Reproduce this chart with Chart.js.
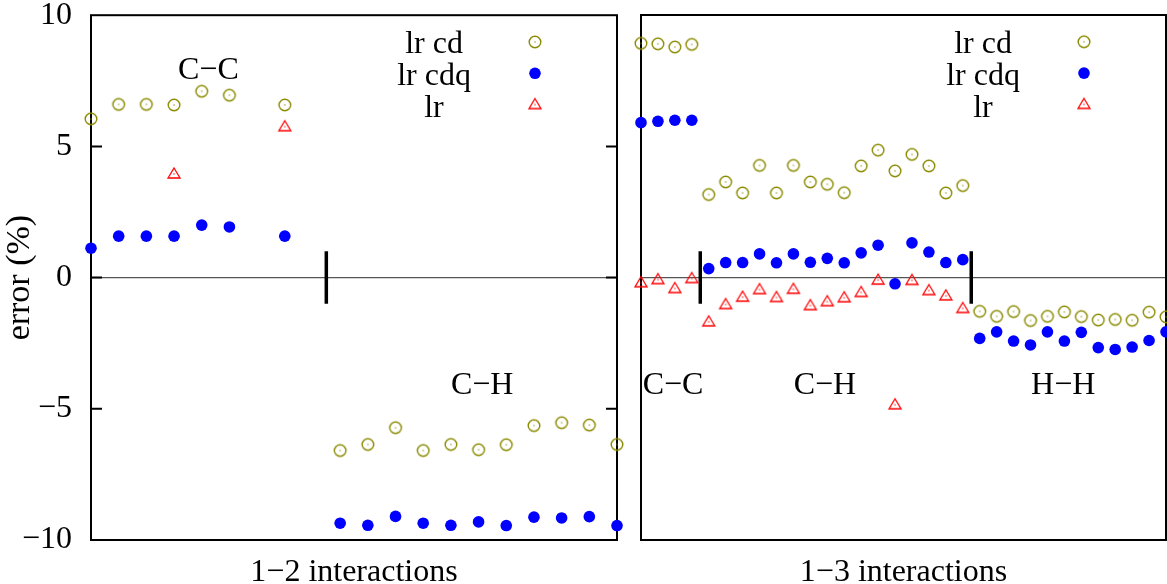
<!DOCTYPE html>
<html>
<head>
<meta charset="utf-8">
<script src="https://cdn.jsdelivr.net/npm/chart.js@4.4.1/dist/chart.umd.min.js"></script>
<style>
  html, body { margin: 0; padding: 0; background: #fff; overflow: hidden; }
  #wrap { position: relative; width: 1167px; height: 584px; overflow: hidden; }
  .box { position: absolute; }
</style>
</head>
<body>
<div id="wrap">
  <div class="box" style="left:0;top:-23px;width:630px;height:623px"><canvas id="left" width="630" height="623"></canvas></div>
  <div class="box" style="left:630px;top:0;width:543px;height:600px"><canvas id="right" width="543" height="600"></canvas></div>
</div>
<script>
// series names
var seriesNames = ["lr cd", "lr cdq", "lr"];

// 1-2 interactions (index 0..19)
var leftCd = [6.05, 6.6, 6.6, 6.58, 7.1, 6.95, null, 6.58, null,
  -6.59, -6.36, -5.72, -6.59, -6.36, -6.56, -6.37, -5.64, -5.53, -5.62, -6.36];
var leftCdq = [1.12, 1.58, 1.58, 1.58, 2.0, 1.93, null, 1.58, null,
  -9.36, -9.44, -9.1, -9.36, -9.44, -9.31, -9.45, -9.13, -9.16, -9.11, -9.45];
var leftLr = [null, null, null, 3.95, null, null, null, 5.75, null,
  null, null, null, null, null, null, null, null, null, null, null];
var leftSep = [8.5];

// 1-3 interactions (index 0..31)
var rightCd = [8.92, 8.9, 8.78, 8.88,
  3.16, 3.64, 3.22, 4.27, 3.22, 4.27, 3.64, 3.55, 3.23, 4.25, 4.85, 4.06, 4.69, 4.25, 3.22, 3.5,
  -1.29, -1.48, -1.3, -1.64, -1.48, -1.31, -1.49, -1.62, -1.6, -1.63, -1.32, -1.5];
var rightCdq = [5.9, 5.95, 5.99, 5.99,
  0.34, 0.57, 0.57, 0.9, 0.56, 0.9, 0.58, 0.73, 0.56, 0.94, 1.23, -0.24, 1.32, 0.97, 0.57, 0.68,
  -2.32, -2.07, -2.42, -2.57, -2.07, -2.42, -2.09, -2.67, -2.74, -2.65, -2.4, -2.07];
var rightLr = [-0.2, -0.08, -0.42, -0.04,
  -1.69, -1.03, -0.75, -0.46, -0.76, -0.45, -1.07, -0.92, -0.77, -0.57, -0.1, -4.85, -0.11, -0.5, -0.7, -1.18,
  null, null, null, null, null, null, null, null, null, null, null, null];
var rightSep = [3.5, 19.5];

var sepRange = [-1, 1];
var yTicks = [-10, -5, 0, 5, 10];

var olive = "#8a8a00";
var blue = "#0000ff";
var red = "#ff0000";

Chart.defaults.font.family = "'Liberation Serif', 'Times New Roman', serif";
Chart.defaults.font.size = 32;
Chart.defaults.color = "#000";

function circleMarker() {
  var c = document.createElement("canvas");
  c.width = 16; c.height = 16;
  var g = c.getContext("2d");
  g.strokeStyle = olive;
  g.lineWidth = 1.4;
  g.beginPath();
  g.arc(8, 8, 5.8, 0, Math.PI * 2);
  g.stroke();
  g.fillStyle = olive;
  g.fillRect(7.4, 7.4, 1.2, 1.2);
  return c;
}

function triangleMarker() {
  var c = document.createElement("canvas");
  c.width = 16; c.height = 16;
  var g = c.getContext("2d");
  g.strokeStyle = red;
  g.lineWidth = 1.3;
  g.beginPath();
  g.moveTo(8, 2);
  g.lineTo(14, 12);
  g.lineTo(2, 12);
  g.closePath();
  g.stroke();
  g.fillStyle = red;
  g.fillRect(7.4, 7.4, 1.2, 1.2);
  return c;
}

var cdMark = circleMarker();
var lrMark = triangleMarker();

function pts(arr) {
  return arr.map(function (y, i) { return { x: i, y: y }; });
}

function makeDatasets(cd, cdq, lr, seps) {
  var ds = [
    { label: seriesNames[0], data: pts(cd), pointStyle: cdMark, pointRadius: 6, clip: false },
    { label: seriesNames[1], data: pts(cdq), pointStyle: "circle", pointRadius: 5.8,
      backgroundColor: blue, borderWidth: 0, clip: false },
    { label: seriesNames[2], data: pts(lr), pointStyle: lrMark, pointRadius: 6, clip: false },
  ];
  seps.forEach(function (s) {
    ds.push({
      data: sepRange.map(function (y) { return { x: s, y: y }; }),
      showLine: true, borderColor: "#000", borderWidth: 3.5, pointRadius: 0
    });
  });
  return ds;
}

// frame, inner ticks, legend and region labels
var decor = {
  id: "decor",
  beforeDatasetsDraw: function (chart, args, opts) {
    var a = chart.chartArea, ctx = chart.ctx, ys = chart.scales.y;
    ctx.save();
    ctx.strokeStyle = "#000";
    ctx.lineWidth = 2;
    ctx.strokeRect(a.left, a.top, a.right - a.left, a.bottom - a.top);
    if (opts.innerTicks) {
      yTicks.slice(1, -1).forEach(function (v) {
        var py = ys.getPixelForValue(v);
        ctx.beginPath();
        ctx.moveTo(a.left, py); ctx.lineTo(a.left + 11, py);
        ctx.moveTo(a.right, py); ctx.lineTo(a.right - 11, py);
        ctx.stroke();
      });
    }
    ctx.restore();
  },
  afterDatasetsDraw: function (chart, args, opts) {
    var a = chart.chartArea, ctx = chart.ctx;
    var xs = chart.scales.x, ys = chart.scales.y;
    ctx.save();
    ctx.fillStyle = "#000";
    ctx.font = "32px 'Liberation Serif'";
    ctx.textAlign = "center";
    ctx.textBaseline = "alphabetic";
    var marks = [cdMark, null, lrMark];
    seriesNames.forEach(function (n, k) {
      ctx.fillText(n, a.right - 183, a.top + 38 + k * 31.8);
      var mx = a.right - 82, my = a.top + 26.8 + k * 31.3;
      if (marks[k]) {
        ctx.drawImage(marks[k], mx - 8, my - 8);
      } else {
        ctx.fillStyle = blue;
        ctx.beginPath(); ctx.arc(mx, my, 5.8, 0, Math.PI * 2); ctx.fill();
        ctx.fillStyle = "#000";
      }
    });
    (opts.labels || []).forEach(function (l) {
      ctx.fillText(l.text, xs.getPixelForValue(l.x), ys.getPixelForValue(l.y));
    });
    ctx.restore();
  }
};

function makeOptions(xmax, xTitle, yWidth, showY, padRight, labels, innerTicks) {
  return {
    responsive: false,
    animation: false,
    layout: { padding: { top: 15, right: padRight, left: 0, bottom: 0 } },
    plugins: {
      legend: { display: false },
      tooltip: { enabled: false },
      decor: { labels: labels, innerTicks: innerTicks }
    },
    scales: {
      x: {
        type: "linear", min: 0, max: xmax,
        ticks: { display: false },
        grid: { display: false },
        border: { display: false },
        title: { display: true, text: xTitle, padding: { top: 0, bottom: 8 } },
        afterFit: function (s) { s.height = 60; }
      },
      y: {
        min: -10, max: 10,
        afterBuildTicks: function (s) { s.ticks = yTicks.map(function (v) { return { value: v }; }); },
        ticks: {
          display: showY, padding: 19,
          callback: function (v) { return String(v).replace("-", "\u2212"); }
        },
        grid: {
          drawTicks: false, lineWidth: 1.2,
          color: function (c) { return c.tick && c.tick.value === 0 ? "#555" : "rgba(0,0,0,0)"; }
        },
        border: { display: false },
        title: { display: showY, text: "error (%)", font: { size: 34 }, padding: { top: 0 } },
        afterFit: function (s) { s.width = yWidth; }
      }
    }
  };
}

new Chart("left", {
  type: "scatter",
  data: { datasets: makeDatasets(leftCd, leftCdq, leftLr, leftSep) },
  options: makeOptions(19, "1\u22122 interactions", 91, true, 13, [
    { text: "C\u2212C", x: 4.24, y: 7.56 },
    { text: "C\u2212H", x: 14.13, y: -4.44 }
  ], true),
  plugins: [decor]
});

new Chart("right", {
  type: "scatter",
  data: { datasets: makeDatasets(rightCd, rightCdq, rightLr, rightSep) },
  options: makeOptions(31, "1\u22123 interactions", 11, false, 1, [
    { text: "C\u2212C", x: 1.89, y: -4.44 },
    { text: "C\u2212H", x: 10.86, y: -4.44 },
    { text: "H\u2212H", x: 24.93, y: -4.44 }
  ], false),
  plugins: [decor]
});
</script>
</body>
</html>
